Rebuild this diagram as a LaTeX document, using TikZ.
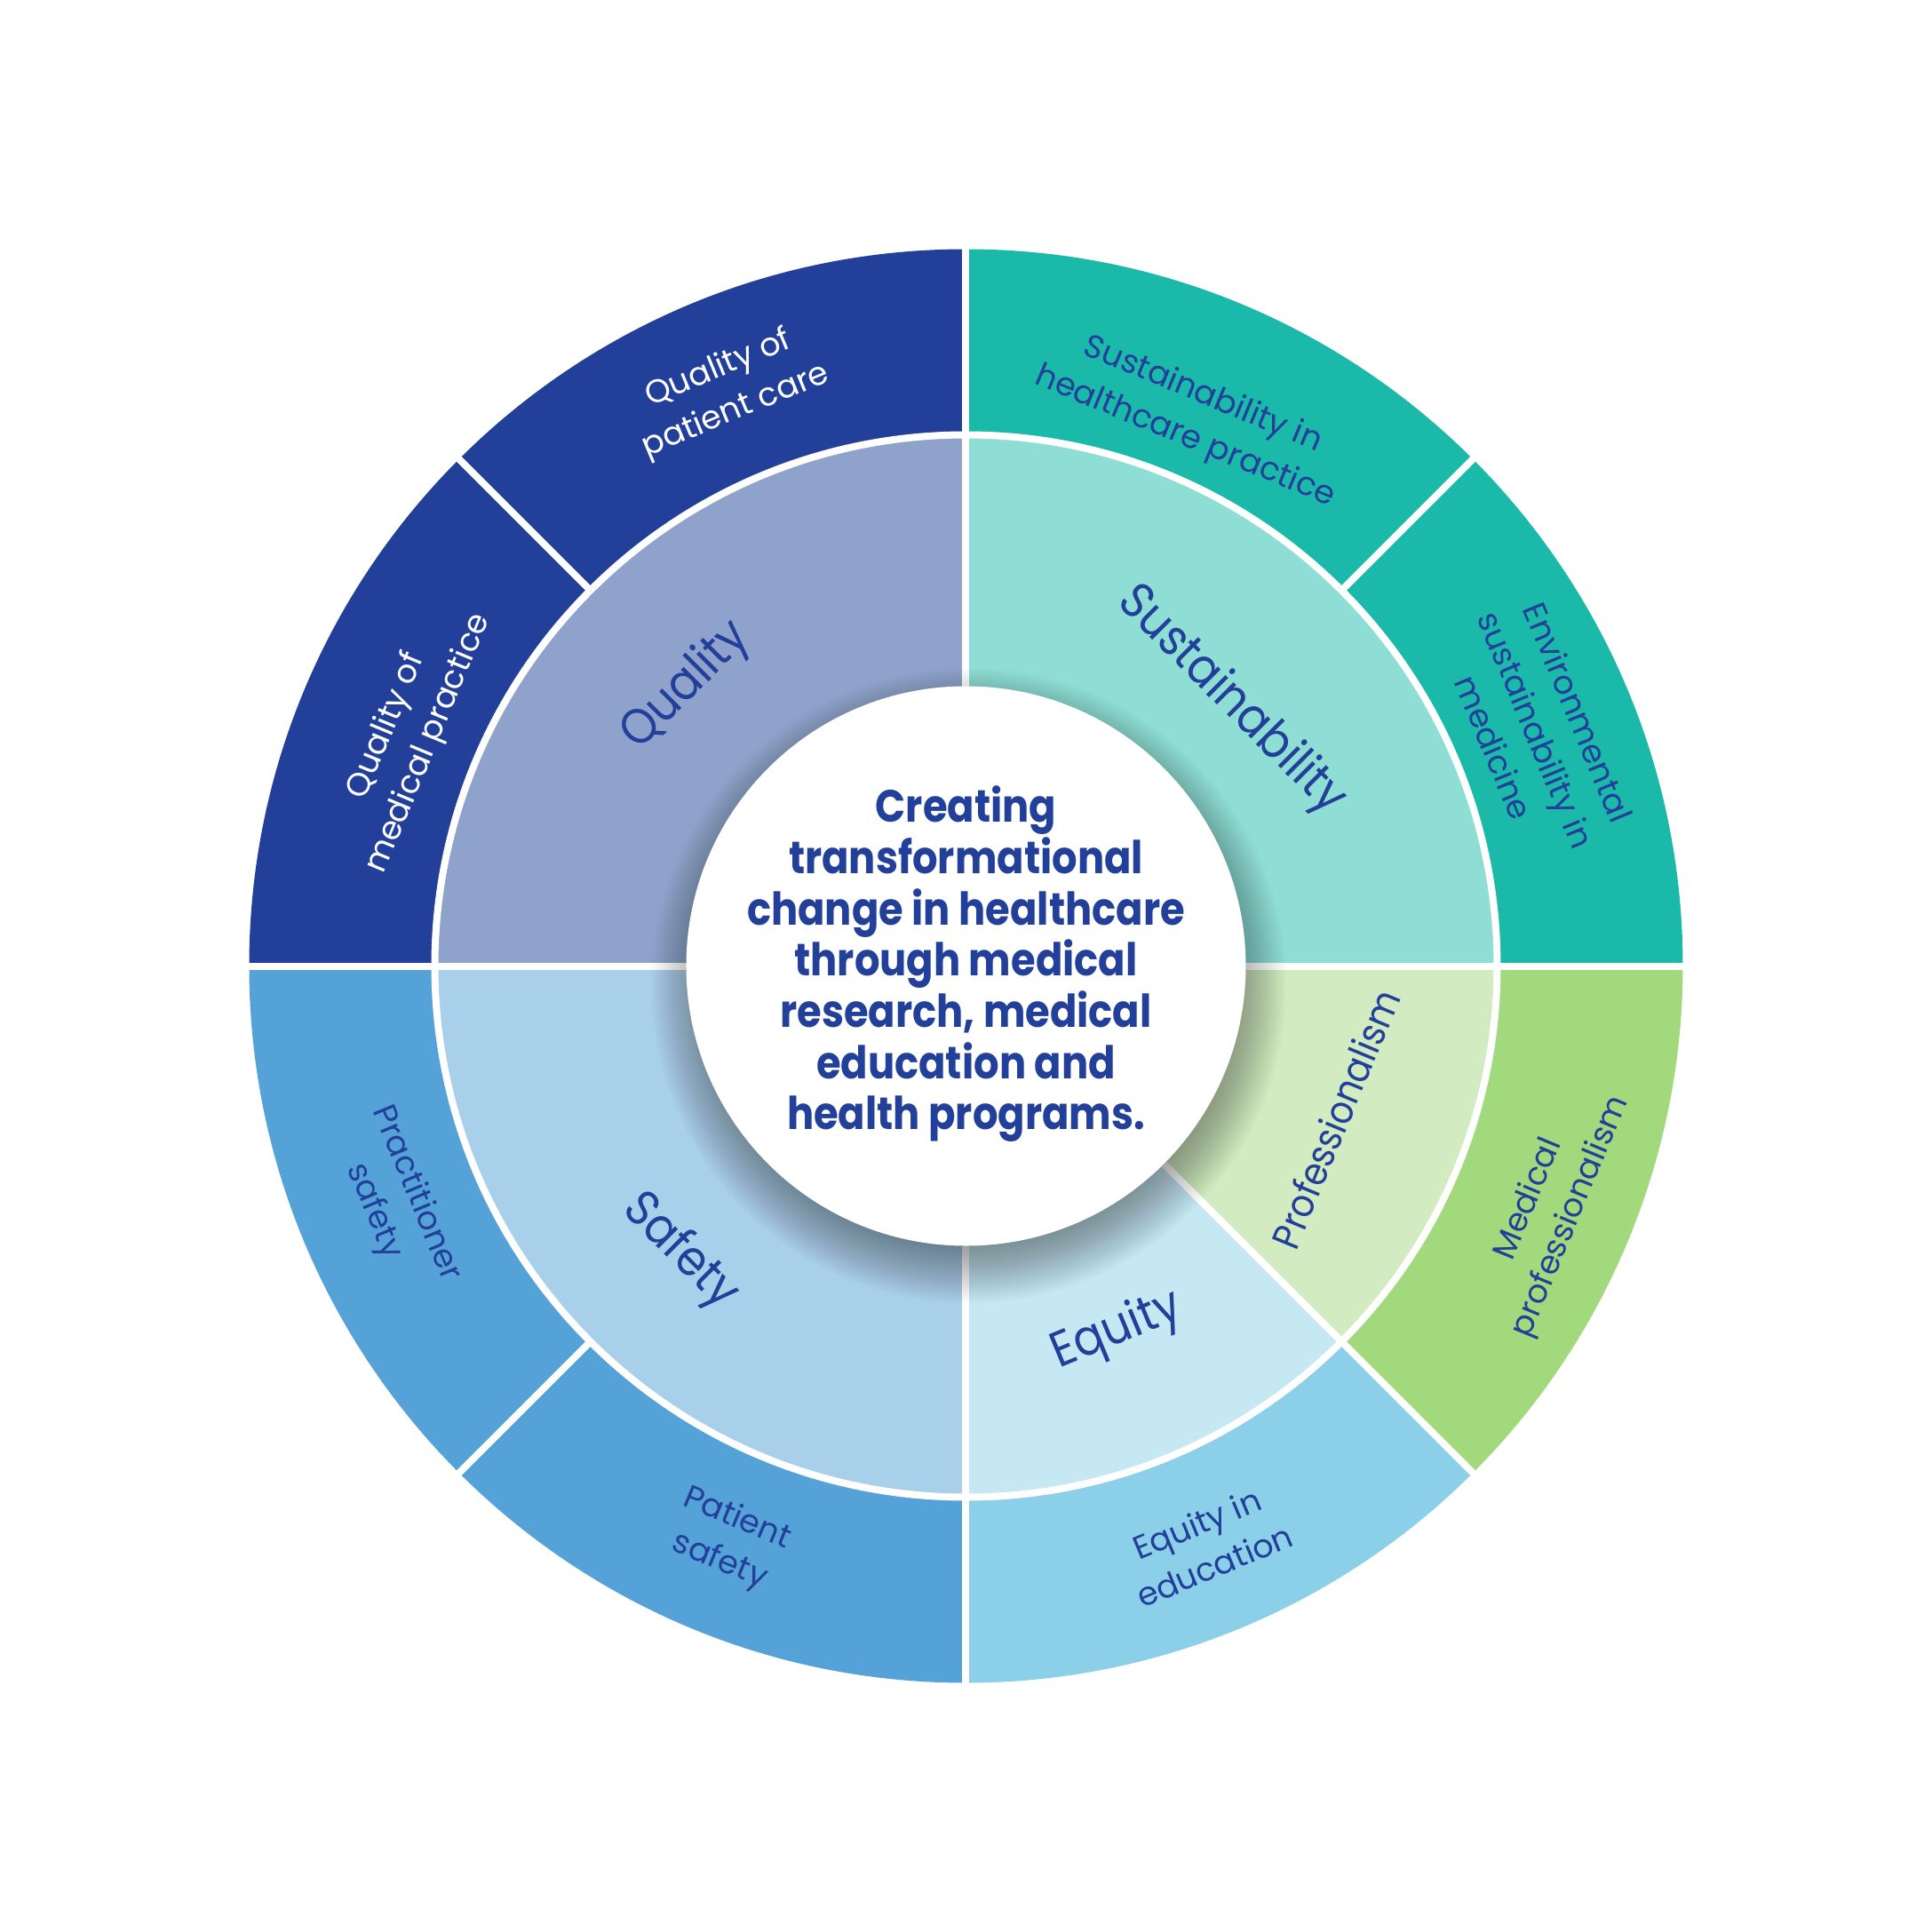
\documentclass[tikz,border=0pt]{standalone}
\usepackage{fontspec}
\setmainfont{Poppins}
\newfontfamily\ctrfont{Poppins}[FakeStretch=0.88]
\newfontfamily\midfont{Poppins}[FakeStretch=0.9]
\definecolor{navy}{HTML}{22409A}
\definecolor{qout}{HTML}{22409A}
\definecolor{qmid}{HTML}{8FA2CC}
\definecolor{sout}{HTML}{1BB9A9}
\definecolor{smid}{HTML}{8FDED6}
\definecolor{pout}{HTML}{A3D97D}
\definecolor{pmid}{HTML}{D2EBC0}
\definecolor{eout}{HTML}{8BCFE8}
\definecolor{emid}{HTML}{C5E8F3}
\definecolor{fout}{HTML}{55A2D9}
\definecolor{fmid}{HTML}{A9D0EA}
\tikzset{
  outlbl/.style={font=\fontsize{10.4}{14.6}\selectfont, align=center, text=navy, inner sep=0pt},
  midlbl/.style={font=\midfont\fontsize{16}{19}\selectfont, text=navy, inner sep=0pt},
  sep/.style={white, line width=0.08cm},
}
\begin{document}
\begin{tikzpicture}[x=1cm,y=1cm]
\useasboundingbox (-10.875,-10.875) rectangle (10.875,10.875);
\fill[white] (-10.875,-10.875) rectangle (10.875,10.875);
\def\Ro{8.07}
\def\Rm{5.98}
\def\Ri{3.15}
% outer ring
\fill[qout] (0,0) -- (90:\Ro) arc (90:180:\Ro) -- cycle;
\fill[sout] (0,0) -- (0:\Ro) arc (0:90:\Ro) -- cycle;
\fill[pout] (0,0) -- (315:\Ro) arc (315:360:\Ro) -- cycle;
\fill[eout] (0,0) -- (270:\Ro) arc (270:315:\Ro) -- cycle;
\fill[fout] (0,0) -- (180:\Ro) arc (180:270:\Ro) -- cycle;
% middle ring
\fill[qmid] (0,0) -- (90:\Rm) arc (90:180:\Rm) -- cycle;
\fill[smid] (0,0) -- (0:\Rm) arc (0:90:\Rm) -- cycle;
\fill[pmid] (0,0) -- (315:\Rm) arc (315:360:\Rm) -- cycle;
\fill[emid] (0,0) -- (270:\Rm) arc (270:315:\Rm) -- cycle;
\fill[fmid] (0,0) -- (180:\Rm) arc (180:270:\Rm) -- cycle;
% separators
\draw[sep] (0,0) circle (\Rm);
\foreach \a in {0,90,180,270,315} \draw[sep] (0,0) -- (\a:8.3);
\foreach \a in {45,135,225} \draw[sep] (\a:\Rm) -- (\a:8.3);
% shadow
\foreach \i in {0,...,34} \fill[black, opacity=0.011] (0.03,-0.22) circle ({2.9+\i*0.02});
% center
\fill[white] (0,0) circle (\Ri);
\node[align=center, font=\ctrfont\bfseries\fontsize{14.5}{16.4}\selectfont, text=navy, inner sep=0pt] (ctr) at (0,0.02)
  {Creating\\transformational\\change in healthcare\\through medical\\research, medical\\education and\\health programs.};
% middle labels
\node[midlbl, rotate=45] (lq) at (135:4.45) {Quality};
\node[midlbl, rotate=-45] (ls) at (45:4.22) {Sustainability};
\node[midlbl, rotate=67.5, font=\midfont\fontsize{12.5}{15}\selectfont] (lp) at (337.5:4.5) {Professionalism};
\node[midlbl, rotate=22.5] (le) at (292.5:4.45) {Equity};
\node[midlbl, rotate=-45] (lf) at (225:4.55) {Safety};
% outer labels
\node[outlbl, text=white, rotate=22.5] (o1) at (112.5:7.02) {Quality of\\patient care};
\node[outlbl, text=white, rotate=67.5] (o2) at (157.5:6.8) {Quality of\\medical practice};
\node[outlbl, rotate=-22.5] (o3) at (67.5:6.7) {Sustainability in\\healthcare practice};
\node[outlbl, rotate=-67.5] (o4) at (22.5:6.95) {Environmental\\sustainability in\\medicine};
\node[outlbl, rotate=67.5] (o5) at (337.5:7.12) {Medical\\professionalism};
\node[outlbl, rotate=22.5] (o6) at (292.5:7.05) {Equity in\\education};
\node[outlbl, rotate=-22.5] (o7) at (247.5:7.0) {Patient\\safety};
\node[outlbl, rotate=-67.5] (o8) at (202.5:6.96) {Practitioner\\safety};
\end{tikzpicture}
\end{document}
